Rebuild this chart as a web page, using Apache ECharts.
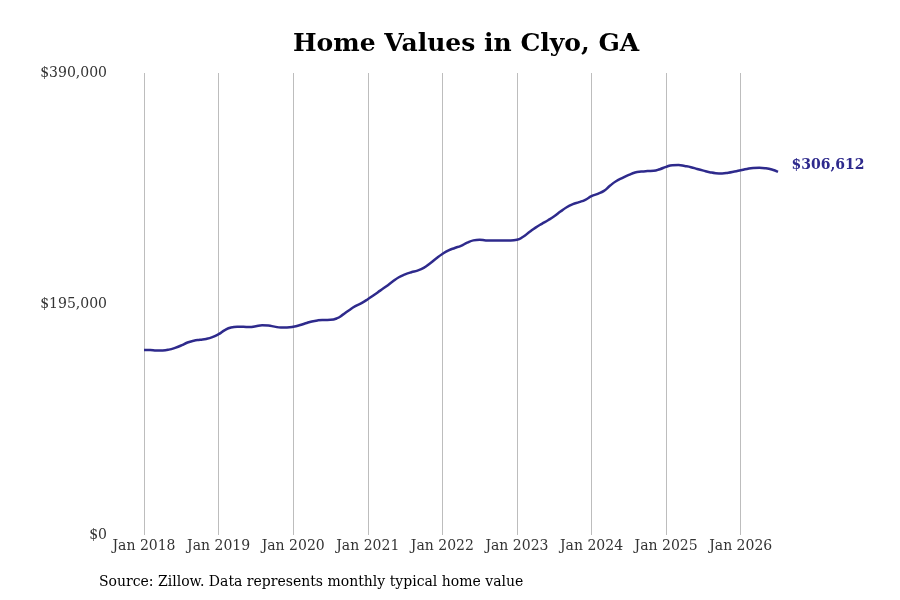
<!DOCTYPE html>
<html>
<head>
<meta charset="utf-8">
<script src="https://cdn.jsdelivr.net/npm/echarts@6/dist/echarts.min.js"></script>
<style>
html,body{margin:0;padding:0;background:#fff;}
#chart{width:900px;height:600px;}
</style>
</head>
<body>
<div id="chart"></div>
<script>
const years = [2018, 2019, 2020, 2021, 2022, 2023, 2024, 2025, 2026];
const monthNames = ['Jan','Feb','Mar','Apr','May','Jun','Jul','Aug','Sep','Oct','Nov','Dec'];
const values2018 = [156200,156100,155700,155800,156500,158000,160000,162500,164000,164800,165500,167000];
const values2019 = [169500,173000,175200,175800,175700,175500,176300,177000,176800,175900,175100,175200];
const values2020 = [175800,177000,178700,180300,181200,181500,181600,182800,186000,189800,193200,195800];
const values2021 = [199000,202600,206300,210000,214000,217600,220000,221800,223200,225500,229200,233400];
const values2022 = [237200,240300,242300,244100,246800,248700,249200,248700,248600,248700,248700,248700];
const values2023 = [249200,251800,255700,259500,262700,265700,269000,273000,276700,279300,281000,283000];
const values2024 = [286000,288000,290500,295000,298800,301500,304000,306000,306800,307200,307400,308800];
const values2025 = [310800,312200,312300,311500,310500,309000,307600,306300,305400,305200,305800,306800];
const values2026 = [307900,309000,309800,310000,309600,308500,306612];
const yTicks = [0, 195000, 390000];

const allValues = [].concat(values2018, values2019, values2020, values2021, values2022, values2023, values2024, values2025, values2026);
const categories = [];
for (let i = 0; i < allValues.length; i++) {
  const y = years[0] + Math.floor(i / 12);
  categories.push(monthNames[i % 12] + ' ' + y);
}
const lastIdx = allValues.length - 1;
const lineColor = '#2e2a8c';
const font = 'DejaVu Serif, serif';

const chart = echarts.init(document.getElementById('chart'), null, {renderer: 'canvas'});
chart.setOption({
  animation: false,
  backgroundColor: '#ffffff',
  title: [{
    text: 'Home Values in Clyo, GA',
    left: 288,
    top: 27,
    textStyle: {fontFamily: font, fontSize: 25, fontWeight: 'bold', color: '#000'}
  }],
  graphic: [{
    type: 'text',
    left: 99,
    top: 575,
    style: {text: 'Source: Zillow. Data represents monthly typical home value', font: '14px ' + font, fill: '#000'}
  }],
  grid: {left: 144, right: 122, top: 73, bottom: 65, containLabel: false},
  xAxis: {
    type: 'category',
    data: categories,
    boundaryGap: false,
    axisLine: {show: false},
    axisTick: {show: false},
    axisLabel: {
      interval: (i) => i % 12 === 0,
      formatter: (v) => v,
      fontFamily: font,
      fontSize: 14,
      color: '#333',
      margin: 4
    },
    splitLine: {show: true, interval: (i) => i % 12 === 0, lineStyle: {color: '#bdbdbd', width: 1}}
  },
  yAxis: {
    type: 'value',
    min: yTicks[0],
    max: yTicks[2],
    interval: yTicks[1],
    axisLine: {show: false},
    axisTick: {show: false},
    splitLine: {show: false},
    axisLabel: {
      formatter: v => '$' + v.toLocaleString('en-US'),
      fontFamily: font,
      fontSize: 14,
      color: '#333',
      margin: 37
    }
  },
  series: [{
    type: 'line',
    data: allValues,
    smooth: true,
    showSymbol: false,
    symbol: 'none',
    lineStyle: {color: lineColor, width: 2.5},
    itemStyle: {color: lineColor},
    markPoint: {
      symbol: 'circle',
      symbolSize: 1,
      itemStyle: {color: 'rgba(0,0,0,0)'},
      data: [{coord: [categories[lastIdx], allValues[lastIdx]], value: allValues[lastIdx]}],
      label: {
        show: true,
        position: 'right',
        distance: 13,
        offset: [0, -6],
        formatter: p => '$' + p.value.toLocaleString('en-US'),
        color: lineColor,
        fontWeight: 'bold',
        fontSize: 14,
        fontFamily: font
      }
    }
  }]
});
</script>
</body>
</html>
